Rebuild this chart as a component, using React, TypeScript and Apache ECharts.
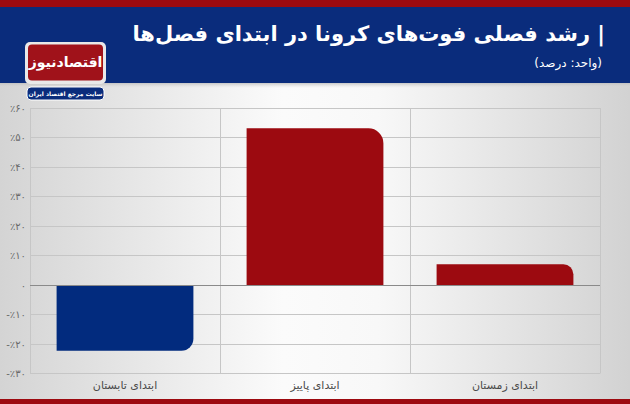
import React, { useEffect, useRef } from "react";
import * as echarts from "echarts";

const categories = ["ابتدای تابستان", "ابتدای پاییز", "ابتدای زمستان"];
const values = [-22.3, 53.1, 7.0];
const yMin = -30;
const yMax = 60;
const yStep = 10;
const titleText = "| رشد فصلی فوت‌های کرونا در ابتدای فصل‌ها";
const subtitleText = "(واحد: درصد)";
const logoText = "اقتصادنیوز";
const logoSub = "سایت مرجع اقتصاد ایران";

const FA_DIGITS = "۰۱۲۳۴۵۶۷۸۹";
const toFa = (n: number) => String(n).replace(/\d/g, (d) => FA_DIGITS[+d]);
const tickLabel = (v: number) =>
  v === 0 ? "۰" : (v < 0 ? "-" : "") + "٪" + toFa(Math.abs(v));
const rtl = (s: string) => "\u202B" + s + "\u202C";

const RED = "#9d0a10";
const BLUE = "#0a2c7c";
const FONT = "'DejaVu Sans', sans-serif";

export default function App() {
  const ref = useRef<HTMLDivElement>(null);
  useEffect(() => {
    document.body.style.margin = "0";
    if (!ref.current) return;
    const chart = echarts.init(ref.current, undefined, { renderer: "svg" });
    const barColor = (v: number) => (v < 0 ? "#022b7e" : "#9c0a10");
    const radius = (v: number, i: number) => {
      const r = i === 1 ? 15 : i === 2 ? 10 : 12;
      return v < 0 ? [0, 0, r, 0] : [0, r, 0, 0];
    };
    chart.setOption({
      animation: false,
      textStyle: { fontFamily: FONT },
      grid: { left: 30, right: 30, top: 108, bottom: 30.5, containLabel: false },
      xAxis: {
        type: "category",
        data: categories,
        boundaryGap: true,
        axisLine: { show: false },
        axisTick: { show: false },
        splitLine: { show: true, lineStyle: { color: "#c6c6c6", width: 1 } },
        axisLabel: { color: "#4a4a4a", fontSize: 11, margin: 6, fontFamily: FONT },
      },
      yAxis: {
        type: "value",
        min: yMin,
        max: yMax,
        interval: yStep,
        axisLine: { show: false },
        axisTick: { show: false },
        splitLine: { show: true, lineStyle: { color: "#c6c6c6", width: 1 } },
        axisLabel: {
          color: "#6a6a6a",
          fontSize: 10,
          margin: 4,
          fontFamily: FONT,
          formatter: (v: number) => tickLabel(v),
        },
      },
      series: [
        {
          type: "bar",
          barWidth: "72%",
          data: values.map((v, i) => ({
            value: v,
            itemStyle: { color: barColor(v), borderRadius: radius(v, i) },
          })),
          markLine: {
            silent: true,
            symbol: "none",
            label: { show: false },
            lineStyle: { color: "#8a8a8a", width: 1, type: "solid" },
            data: [{ yAxis: 0 }],
          },
          z: 3,
        },
      ],
      graphic: [
        {
          type: "rect",
          z: -100,
          silent: true,
          shape: { x: 0, y: 0, width: 630, height: 404 },
          style: {
            fill: new echarts.graphic.LinearGradient(0, 0, 1, 0, [
              { offset: 0, color: "#d4d4d4" },
              { offset: 0.45, color: "#fbfbfb" },
              { offset: 0.6, color: "#f8f8f8" },
              { offset: 1, color: "#d2d2d2" },
            ]),
          },
        },
        {
          type: "rect",
          z: 100,
          shape: { x: 0, y: 82, width: 630, height: 6 },
          style: {
            fill: new echarts.graphic.LinearGradient(0, 0, 0, 1, [
              { offset: 0, color: "#b8b8b8" },
              { offset: 1, color: "rgba(220,220,220,0)" },
            ]),
          },
        },
        {
          type: "rect",
          z: 100,
          shape: { x: 0, y: 6, width: 630, height: 77 },
          style: { fill: BLUE },
        },
        {
          type: "rect",
          z: 101,
          shape: { x: 0, y: 0, width: 630, height: 7 },
          style: { fill: RED },
        },
        {
          type: "rect",
          z: 101,
          shape: { x: 0, y: 399, width: 630, height: 5 },
          style: { fill: RED },
        },
        {
          type: "text",
          z: 102,
          x: 605,
          y: 34,
          style: {
            text: rtl(titleText),
            fill: "#ffffff",
            fontSize: 21,
            fontWeight: "bold",
            fontFamily: FONT,
            align: "right",
            verticalAlign: "middle",
            textAlign: "right",
            textVerticalAlign: "middle",
          },
        },
        {
          type: "text",
          z: 102,
          x: 602,
          y: 63,
          style: {
            text: rtl(subtitleText),
            fill: "#ffffff",
            fontSize: 12,
            fontFamily: FONT,
            align: "right",
            verticalAlign: "middle",
            textAlign: "right",
            textVerticalAlign: "middle",
          },
        },
        {
          type: "rect",
          z: 103,
          shape: { x: 25, y: 42, width: 81, height: 42, r: 5 },
          style: { fill: "#e9e9e9" },
        },
        {
          type: "rect",
          z: 104,
          shape: { x: 28, y: 44.5, width: 75, height: 36, r: 4 },
          style: { fill: "#a0121a" },
        },
        {
          type: "text",
          z: 105,
          x: 65.5,
          y: 62,
          style: {
            text: rtl(logoText),
            fill: "#ffffff",
            fontSize: 14,
            fontWeight: "bold",
            fontFamily: FONT,
            align: "center",
            verticalAlign: "middle",
            textAlign: "center",
            textVerticalAlign: "middle",
          },
        },
        {
          type: "rect",
          z: 103,
          shape: { x: 27, y: 87, width: 77, height: 13, r: 4 },
          style: { fill: BLUE, stroke: "#ffffff", lineWidth: 1 },
        },
        {
          type: "text",
          z: 105,
          x: 65.5,
          y: 93.5,
          style: {
            text: rtl(logoSub),
            fill: "#ffffff",
            fontSize: 6,
            fontWeight: "bold",
            fontFamily: FONT,
            align: "center",
            verticalAlign: "middle",
            textAlign: "center",
            textVerticalAlign: "middle",
          },
        },
      ],
    });
    return () => chart.dispose();
  }, []);
  return <div ref={ref} style={{ width: 630, height: 404 }} />;
}
